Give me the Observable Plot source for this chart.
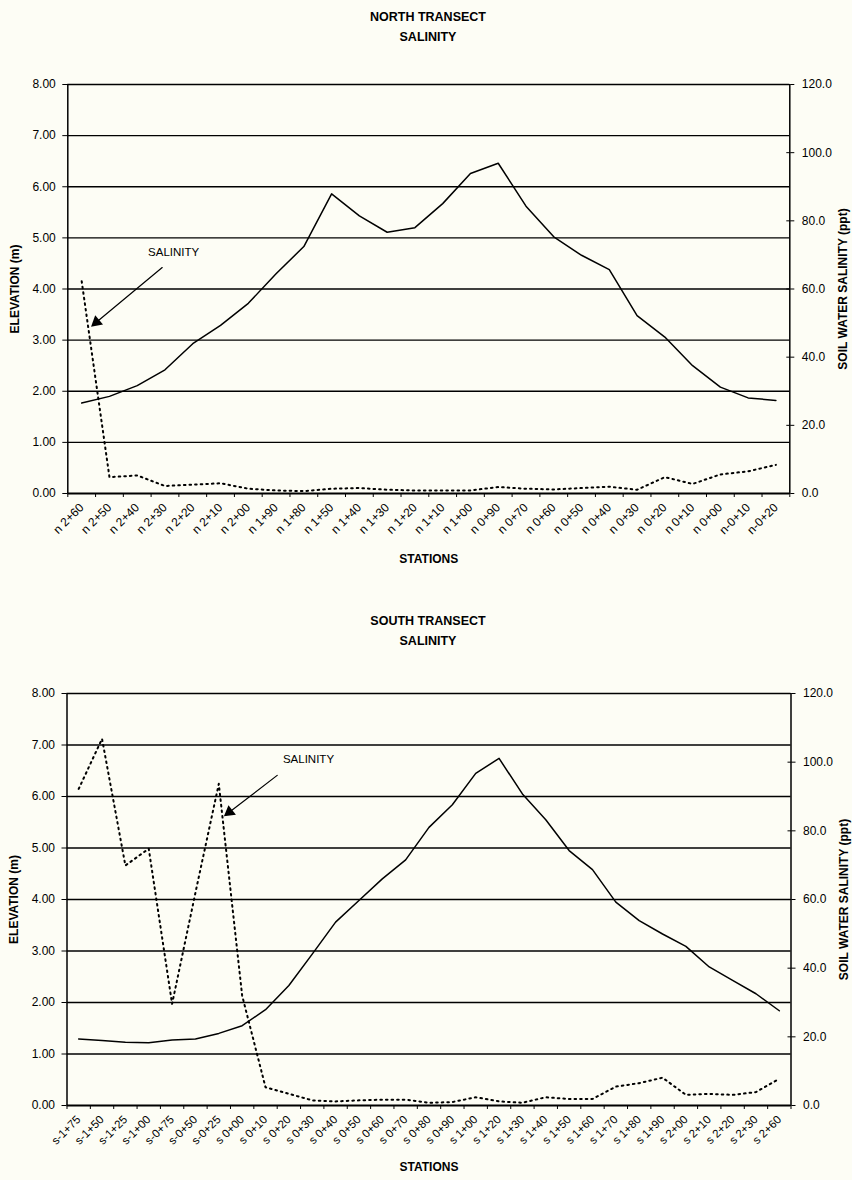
<!DOCTYPE html>
<html>
<head>
<meta charset="utf-8">
<script src="https://cdn.jsdelivr.net/npm/d3@7"></script>
<script src="https://cdn.jsdelivr.net/npm/@observablehq/plot@0.6"></script>
<style>
  html, body { margin: 0; padding: 0; background: #fdfdf5; overflow: hidden; }
  body { width: 852px; height: 1180px; font-family: "Liberation Sans", Arial, sans-serif; color: #000; }
  .title { width: 856px; text-align: center; font-weight: bold; font-size: 12.5px; line-height: 20px; box-sizing: border-box; }
  #t1 { height: 60px; padding-top: 7px; }
  #t2 { height: 90px; padding-top: 31px; }
  svg { display: block; }
</style>
</head>
<body>
<div class="title" id="t1">NORTH TRANSECT<br>SALINITY</div>
<div id="c1"></div>
<div class="title" id="t2">SOUTH TRANSECT<br>SALINITY</div>
<div id="c2"></div>
<script>
// ---------- North transect ----------
const northStations = ["n 2+60","n 2+50","n 2+40","n 2+30","n 2+20","n 2+10","n 2+00","n 1+90","n 1+80","n 1+50","n 1+40","n 1+30","n 1+20","n 1+10","n 1+00","n 0+90","n 0+70","n 0+60","n 0+50","n 0+40","n 0+30","n 0+20","n 0+10","n 0+00","n-0+10","n-0+20"];
const northElevation = [1.77,1.90,2.11,2.42,2.93,3.29,3.72,4.30,4.83,5.86,5.43,5.11,5.20,5.67,6.26,6.46,5.62,5.02,4.66,4.38,3.48,3.06,2.50,2.08,1.87,1.82];
const northSalinity = [62.3,4.8,5.3,2.2,2.6,3.0,1.4,0.9,0.7,1.4,1.6,1.1,0.9,0.9,0.9,1.9,1.4,1.2,1.6,2.0,1.1,4.8,2.8,5.6,6.5,8.4];

// ---------- South transect ----------
const southStations = ["s-1+75","s-1+50","s-1+25","s-1+00","s-0+75","s-0+50","s-0+25","s 0+00","s 0+10","s 0+20","s 0+30","s 0+40","s 0+50","s 0+60","s 0+70","s 0+80","s 0+90","s 1+00","s 1+20","s 1+30","s 1+40","s 1+50","s 1+60","s 1+70","s 1+80","s 1+90","s 2+00","s 2+10","s 2+20","s 2+30","s 2+60"];
const southElevation = [1.29,1.26,1.23,1.22,1.27,1.29,1.40,1.55,1.86,2.33,2.94,3.56,3.98,4.40,4.77,5.40,5.84,6.45,6.74,6.05,5.55,4.95,4.58,3.95,3.59,3.33,3.09,2.69,2.43,2.17,1.84];
const southSalinity = [92.2,106.8,69.9,74.8,29.6,62.0,93.7,32.0,5.3,3.4,1.5,1.2,1.5,1.7,1.7,0.8,1.0,2.4,1.2,0.8,2.4,1.9,1.9,5.5,6.5,8.1,3.1,3.4,3.1,3.9,7.8];

// ---------- Axis tick values ----------
const elevationTicks = [0,1,2,3,4,5,6,7,8];
const salinityTicks = [0,20,40,60,80,100,120];
const ELEV_MAX = 8, SAL_MAX = 120;

// annotation: label position and arrow (station index, elevation units)
const northNote = {text: "SALINITY", tx: 3.81, ty: 4.72, x1: 3.40, y1: 4.42, x2: 0.92, y2: 3.30, headRotate: 230};
const southNote = {text: "SALINITY", tx: 10.34, ty: 6.72, x1: 9.00, y1: 6.41, x2: 6.82, y2: 5.65, headRotate: 232};

const FONT = "'Liberation Sans', Arial, sans-serif";

function chart({stations, elevation, salinity, note, height, marginTop, marginBottom, marginLeft, marginRight, tickFont, stationsDy}) {
  const N = stations.length;
  const k = ELEV_MAX / SAL_MAX;
  const rows = stations.map((s, i) => ({pos: i + 0.5, station: s, elev: elevation[i], sal: salinity[i]}));
  const rad = (note.headRotate - 90) * Math.PI / 180;
  return Plot.plot({
    width: 852, height, marginTop, marginBottom, marginLeft, marginRight,
    style: {background: "transparent", fontFamily: FONT, fontSize: "12px", color: "#000", overflow: "visible"},
    x: {domain: [0, N], axis: null},
    y: {domain: [0, ELEV_MAX], axis: null},
    marks: [
      Plot.gridY(elevationTicks.slice(1), {stroke: "#000", strokeOpacity: 1, strokeWidth: 1.4}),
      Plot.ruleX([0, N], {stroke: "#000", strokeWidth: 1.5}),
      Plot.ruleY([0], {stroke: "#000", strokeWidth: 2.2}),
      // left axis
      Plot.axisY(elevationTicks, {anchor: "left", tickSize: 5, tickPadding: 7, tickFormat: d3.format(".2f"), label: null, fontSize: 12}),
      // right axis (salinity, expressed in elevation units)
      Plot.axisY(salinityTicks.map(v => v * k), {anchor: "right", tickSize: 4, tickPadding: 8, tickFormat: v => (v / k).toFixed(1), label: null, fontSize: 12}),
      Plot.axisY(salinityTicks.map(v => v * k), {anchor: "right", tickSize: -4, tickFormat: () => "", label: null}),
      // x axis: boundary ticks and rotated station labels
      Plot.axisX(d3.range(N + 1), {anchor: "bottom", tickSize: 4, tickFormat: () => "", label: null}),
      Plot.axisX(rows.map(d => d.pos), {anchor: "bottom", tickSize: 0, tickPadding: 12, tickRotate: -45, tickFormat: v => stations[Math.floor(v)], label: null, fontSize: tickFont}),
      // data
      Plot.line(rows, {x: "pos", y: "elev", stroke: "#000", strokeWidth: 1.5}),
      Plot.line(rows, {x: "pos", y: d => d.sal * k, stroke: "#000", strokeWidth: 2, strokeDasharray: "1.6,4"}),
      // annotation
      Plot.text([note], {x: "tx", y: "ty", text: "text", fontSize: 11.5, fill: "#000"}),
      Plot.arrow([note], {x1: "x1", y1: "y1", x2: "x2", y2: "y2", stroke: "#000", strokeWidth: 1.2, headLength: 0}),
      Plot.dot([note], {x: "x2", y: "y2", symbol: "triangle", r: 4.5, fill: "#000", stroke: "none", rotate: "headRotate",
                        dx: -Math.cos(rad) * 4, dy: -Math.sin(rad) * 4}),
      // axis titles
      Plot.text(["ELEVATION (m)"], {frameAnchor: "left", textAnchor: "middle", rotate: -90, dx: -53, fontWeight: "bold", fontSize: 12}),
      Plot.text(["SOIL WATER SALINITY (ppt)"], {frameAnchor: "right", textAnchor: "middle", rotate: -90, dx: 53, fontWeight: "bold", fontSize: 12}),
      Plot.text(["STATIONS"], {frameAnchor: "bottom", dy: stationsDy, fontWeight: "bold", fontSize: 12})
    ]
  });
}

document.getElementById("c1").append(chart({
  stations: northStations, elevation: northElevation, salinity: northSalinity, note: northNote,
  height: 520, marginTop: 24, marginBottom: 87, marginLeft: 67.3, marginRight: 62.7, tickFont: 12, stationsDy: 69
}));
document.getElementById("c2").append(chart({
  stations: southStations, elevation: southElevation, salinity: southSalinity, note: southNote,
  height: 510, marginTop: 23, marginBottom: 75, marginLeft: 66.5, marginRight: 61.5, tickFont: 11.5, stationsDy: 65
}));
</script>
</body>
</html>
